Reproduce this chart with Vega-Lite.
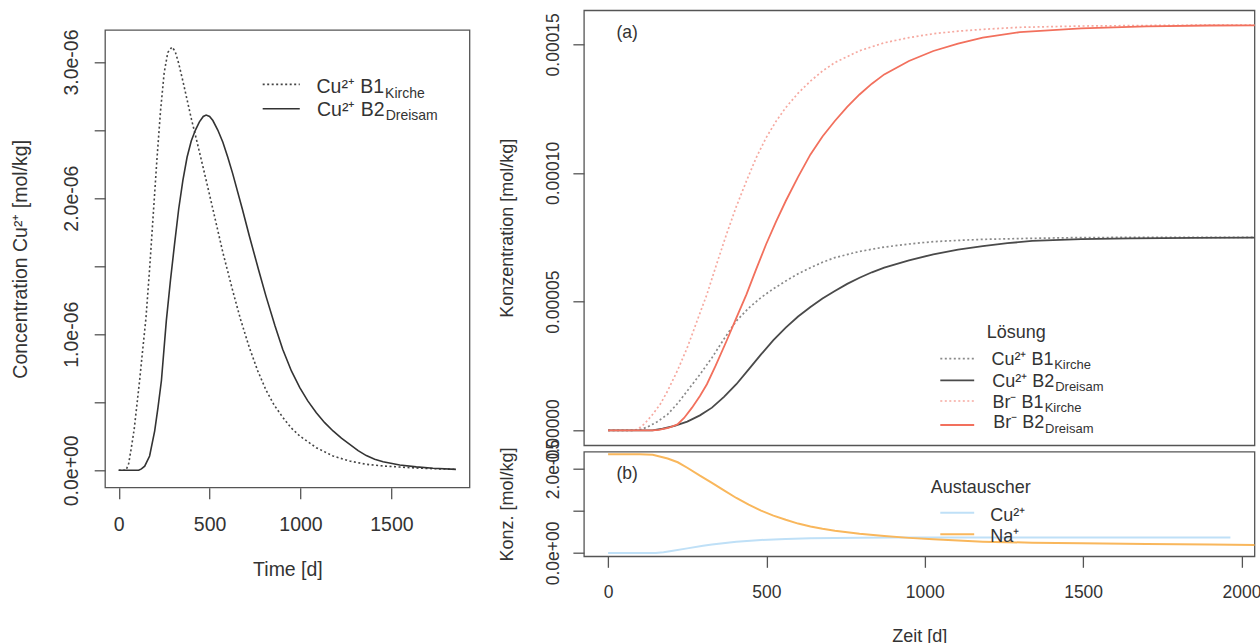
{
"$schema": "https://vega.github.io/schema/vega-lite/v6.json",
"padding": {"left": 10.2, "top": 9.3, "right": 0, "bottom": 0},
"bounds": "flush",
"spacing": 113.7,
"resolve": {"scale": {"x": "independent", "y": "independent"}},
"config": {
  "font": "Liberation Sans",
  "view": {"stroke": "#555", "strokeWidth": 1.3},
  "axis": {"grid": false, "domain": false, "tickColor": "#555", "tickWidth": 1.3, "tickSize": 11,
    "labelFont": "Liberation Sans", "labelFontSize": 19.5, "labelColor": "#333",
    "titleFont": "Liberation Sans", "titleFontSize": 19.5, "titleFontWeight": "normal", "titleColor": "#333",
    "labelOverlap": false, "labelFlush": false, "labelBound": false},
  "text": {"font": "Liberation Sans", "color": "#333"}
},
"datasets": {
  "left": [
    {"t":0,"c":0,"s":"B1"},{"t":40,"c":0,"s":"B1"},{"t":55,"c":0.05e-6,"s":"B1"},{"t":70,"c":0.17e-6,"s":"B1"},{"t":85,"c":0.3e-6,"s":"B1"},{"t":100,"c":0.48e-6,"s":"B1"},{"t":115,"c":0.66e-6,"s":"B1"},{"t":130,"c":0.86e-6,"s":"B1"},{"t":150,"c":1.12e-6,"s":"B1"},{"t":170,"c":1.48e-6,"s":"B1"},{"t":190,"c":1.88e-6,"s":"B1"},{"t":210,"c":2.28e-6,"s":"B1"},{"t":230,"c":2.64e-6,"s":"B1"},{"t":250,"c":2.92e-6,"s":"B1"},{"t":270,"c":3.07e-6,"s":"B1"},{"t":293,"c":3.11e-6,"s":"B1"},{"t":310,"c":3.08e-6,"s":"B1"},{"t":330,"c":2.99e-6,"s":"B1"},{"t":353,"c":2.86e-6,"s":"B1"},{"t":380,"c":2.7e-6,"s":"B1"},{"t":400,"c":2.58e-6,"s":"B1"},{"t":426,"c":2.44e-6,"s":"B1"},{"t":460,"c":2.25e-6,"s":"B1"},{"t":490,"c":2.08e-6,"s":"B1"},{"t":530,"c":1.85e-6,"s":"B1"},{"t":573,"c":1.6e-6,"s":"B1"},{"t":627,"c":1.32e-6,"s":"B1"},{"t":670,"c":1.11e-6,"s":"B1"},{"t":719,"c":0.9e-6,"s":"B1"},{"t":765,"c":0.73e-6,"s":"B1"},{"t":810,"c":0.59e-6,"s":"B1"},{"t":855,"c":0.48e-6,"s":"B1"},{"t":902,"c":0.39e-6,"s":"B1"},{"t":950,"c":0.31e-6,"s":"B1"},{"t":996,"c":0.252e-6,"s":"B1"},{"t":1087,"c":0.166e-6,"s":"B1"},{"t":1179,"c":0.105e-6,"s":"B1"},{"t":1271,"c":0.068e-6,"s":"B1"},{"t":1362,"c":0.044e-6,"s":"B1"},{"t":1454,"c":0.032e-6,"s":"B1"},{"t":1546,"c":0.024e-6,"s":"B1"},{"t":1650,"c":0.016e-6,"s":"B1"},{"t":1750,"c":0.011e-6,"s":"B1"},{"t":1855,"c":0.007e-6,"s":"B1"},
    {"t":0,"c":0,"s":"B2"},{"t":110,"c":0,"s":"B2"},{"t":125,"c":0.01e-6,"s":"B2"},{"t":143,"c":0.03e-6,"s":"B2"},{"t":170,"c":0.105e-6,"s":"B2"},{"t":198,"c":0.29e-6,"s":"B2"},{"t":216,"c":0.46e-6,"s":"B2"},{"t":235,"c":0.66e-6,"s":"B2"},{"t":262,"c":1.1e-6,"s":"B2"},{"t":285,"c":1.4e-6,"s":"B2"},{"t":307,"c":1.66e-6,"s":"B2"},{"t":330,"c":1.92e-6,"s":"B2"},{"t":353,"c":2.13e-6,"s":"B2"},{"t":376,"c":2.3e-6,"s":"B2"},{"t":399,"c":2.42e-6,"s":"B2"},{"t":422,"c":2.5e-6,"s":"B2"},{"t":444,"c":2.56e-6,"s":"B2"},{"t":465,"c":2.6e-6,"s":"B2"},{"t":481,"c":2.61e-6,"s":"B2"},{"t":500,"c":2.6e-6,"s":"B2"},{"t":518,"c":2.57e-6,"s":"B2"},{"t":545,"c":2.5e-6,"s":"B2"},{"t":573,"c":2.41e-6,"s":"B2"},{"t":600,"c":2.3e-6,"s":"B2"},{"t":627,"c":2.18e-6,"s":"B2"},{"t":680,"c":1.92e-6,"s":"B2"},{"t":719,"c":1.72e-6,"s":"B2"},{"t":770,"c":1.47e-6,"s":"B2"},{"t":810,"c":1.28e-6,"s":"B2"},{"t":860,"c":1.06e-6,"s":"B2"},{"t":902,"c":0.89e-6,"s":"B2"},{"t":950,"c":0.73e-6,"s":"B2"},{"t":996,"c":0.607e-6,"s":"B2"},{"t":1040,"c":0.51e-6,"s":"B2"},{"t":1087,"c":0.423e-6,"s":"B2"},{"t":1133,"c":0.35e-6,"s":"B2"},{"t":1179,"c":0.289e-6,"s":"B2"},{"t":1225,"c":0.236e-6,"s":"B2"},{"t":1271,"c":0.191e-6,"s":"B2"},{"t":1317,"c":0.145e-6,"s":"B2"},{"t":1362,"c":0.108e-6,"s":"B2"},{"t":1408,"c":0.082e-6,"s":"B2"},{"t":1454,"c":0.063e-6,"s":"B2"},{"t":1546,"c":0.039e-6,"s":"B2"},{"t":1637,"c":0.025e-6,"s":"B2"},{"t":1729,"c":0.015e-6,"s":"B2"},{"t":1855,"c":0.007e-6,"s":"B2"}
  ],
  "sol": [
    {"t":0,"c":0,"s":"BrB2"},{"t":140,"c":0,"s":"BrB2"},{"t":160,"c":0.02e-5,"s":"BrB2"},{"t":190,"c":0.09e-5,"s":"BrB2"},{"t":219,"c":0.23e-5,"s":"BrB2"},{"t":240,"c":0.48e-5,"s":"BrB2"},{"t":265,"c":0.88e-5,"s":"BrB2"},{"t":290,"c":1.33e-5,"s":"BrB2"},{"t":312,"c":1.79e-5,"s":"BrB2"},{"t":340,"c":2.52e-5,"s":"BrB2"},{"t":374,"c":3.47e-5,"s":"BrB2"},{"t":405,"c":4.37e-5,"s":"BrB2"},{"t":437,"c":5.28e-5,"s":"BrB2"},{"t":468,"c":6.27e-5,"s":"BrB2"},{"t":499,"c":7.23e-5,"s":"BrB2"},{"t":530,"c":8.1e-5,"s":"BrB2"},{"t":561,"c":8.91e-5,"s":"BrB2"},{"t":600,"c":9.85e-5,"s":"BrB2"},{"t":639,"c":10.72e-5,"s":"BrB2"},{"t":677,"c":11.42e-5,"s":"BrB2"},{"t":716,"c":12.02e-5,"s":"BrB2"},{"t":755,"c":12.57e-5,"s":"BrB2"},{"t":794,"c":13.05e-5,"s":"BrB2"},{"t":833,"c":13.47e-5,"s":"BrB2"},{"t":872,"c":13.83e-5,"s":"BrB2"},{"t":950,"c":14.35e-5,"s":"BrB2"},{"t":1027,"c":14.74e-5,"s":"BrB2"},{"t":1105,"c":15.03e-5,"s":"BrB2"},{"t":1183,"c":15.26e-5,"s":"BrB2"},{"t":1300,"c":15.47e-5,"s":"BrB2"},{"t":1494,"c":15.62e-5,"s":"BrB2"},{"t":1700,"c":15.7e-5,"s":"BrB2"},{"t":1900,"c":15.73e-5,"s":"BrB2"},{"t":2100,"c":15.74e-5,"s":"BrB2"},
    {"t":0,"c":0,"s":"BrB1"},{"t":80,"c":0,"s":"BrB1"},{"t":94,"c":0.04e-5,"s":"BrB1"},{"t":115,"c":0.25e-5,"s":"BrB1"},{"t":141,"c":0.62e-5,"s":"BrB1"},{"t":165,"c":1.02e-5,"s":"BrB1"},{"t":188,"c":1.53e-5,"s":"BrB1"},{"t":220,"c":2.35e-5,"s":"BrB1"},{"t":250,"c":3.21e-5,"s":"BrB1"},{"t":280,"c":4.22e-5,"s":"BrB1"},{"t":312,"c":5.28e-5,"s":"BrB1"},{"t":343,"c":6.47e-5,"s":"BrB1"},{"t":374,"c":7.62e-5,"s":"BrB1"},{"t":405,"c":8.7e-5,"s":"BrB1"},{"t":437,"c":9.69e-5,"s":"BrB1"},{"t":468,"c":10.6e-5,"s":"BrB1"},{"t":499,"c":11.37e-5,"s":"BrB1"},{"t":530,"c":12.0e-5,"s":"BrB1"},{"t":561,"c":12.54e-5,"s":"BrB1"},{"t":600,"c":13.1e-5,"s":"BrB1"},{"t":639,"c":13.57e-5,"s":"BrB1"},{"t":677,"c":13.96e-5,"s":"BrB1"},{"t":716,"c":14.29e-5,"s":"BrB1"},{"t":794,"c":14.75e-5,"s":"BrB1"},{"t":872,"c":15.06e-5,"s":"BrB1"},{"t":950,"c":15.26e-5,"s":"BrB1"},{"t":1027,"c":15.41e-5,"s":"BrB1"},{"t":1105,"c":15.51e-5,"s":"BrB1"},{"t":1183,"c":15.58e-5,"s":"BrB1"},{"t":1300,"c":15.66e-5,"s":"BrB1"},{"t":1494,"c":15.71e-5,"s":"BrB1"},{"t":1800,"c":15.74e-5,"s":"BrB1"},{"t":2100,"c":15.75e-5,"s":"BrB1"},
    {"t":0,"c":0,"s":"CuB2"},{"t":140,"c":0,"s":"CuB2"},{"t":172,"c":0.06e-5,"s":"CuB2"},{"t":210,"c":0.17e-5,"s":"CuB2"},{"t":250,"c":0.34e-5,"s":"CuB2"},{"t":290,"c":0.58e-5,"s":"CuB2"},{"t":328,"c":0.88e-5,"s":"CuB2"},{"t":366,"c":1.3e-5,"s":"CuB2"},{"t":405,"c":1.79e-5,"s":"CuB2"},{"t":444,"c":2.37e-5,"s":"CuB2"},{"t":483,"c":2.95e-5,"s":"CuB2"},{"t":522,"c":3.5e-5,"s":"CuB2"},{"t":561,"c":3.99e-5,"s":"CuB2"},{"t":600,"c":4.42e-5,"s":"CuB2"},{"t":639,"c":4.79e-5,"s":"CuB2"},{"t":677,"c":5.12e-5,"s":"CuB2"},{"t":716,"c":5.41e-5,"s":"CuB2"},{"t":755,"c":5.69e-5,"s":"CuB2"},{"t":794,"c":5.93e-5,"s":"CuB2"},{"t":833,"c":6.14e-5,"s":"CuB2"},{"t":872,"c":6.32e-5,"s":"CuB2"},{"t":950,"c":6.6e-5,"s":"CuB2"},{"t":1027,"c":6.84e-5,"s":"CuB2"},{"t":1105,"c":7.02e-5,"s":"CuB2"},{"t":1183,"c":7.16e-5,"s":"CuB2"},{"t":1261,"c":7.27e-5,"s":"CuB2"},{"t":1339,"c":7.36e-5,"s":"CuB2"},{"t":1494,"c":7.43e-5,"s":"CuB2"},{"t":1650,"c":7.46e-5,"s":"CuB2"},{"t":1850,"c":7.48e-5,"s":"CuB2"},{"t":2100,"c":7.49e-5,"s":"CuB2"},
    {"t":0,"c":0,"s":"CuB1"},{"t":80,"c":0,"s":"CuB1"},{"t":100,"c":0.02e-5,"s":"CuB1"},{"t":125,"c":0.13e-5,"s":"CuB1"},{"t":155,"c":0.33e-5,"s":"CuB1"},{"t":188,"c":0.62e-5,"s":"CuB1"},{"t":220,"c":1.05e-5,"s":"CuB1"},{"t":250,"c":1.53e-5,"s":"CuB1"},{"t":290,"c":2.17e-5,"s":"CuB1"},{"t":328,"c":2.82e-5,"s":"CuB1"},{"t":366,"c":3.55e-5,"s":"CuB1"},{"t":405,"c":4.25e-5,"s":"CuB1"},{"t":444,"c":4.75e-5,"s":"CuB1"},{"t":483,"c":5.16e-5,"s":"CuB1"},{"t":522,"c":5.5e-5,"s":"CuB1"},{"t":561,"c":5.8e-5,"s":"CuB1"},{"t":600,"c":6.08e-5,"s":"CuB1"},{"t":639,"c":6.32e-5,"s":"CuB1"},{"t":677,"c":6.53e-5,"s":"CuB1"},{"t":716,"c":6.71e-5,"s":"CuB1"},{"t":794,"c":6.95e-5,"s":"CuB1"},{"t":872,"c":7.12e-5,"s":"CuB1"},{"t":950,"c":7.24e-5,"s":"CuB1"},{"t":1027,"c":7.33e-5,"s":"CuB1"},{"t":1105,"c":7.38e-5,"s":"CuB1"},{"t":1183,"c":7.42e-5,"s":"CuB1"},{"t":1339,"c":7.46e-5,"s":"CuB1"},{"t":1494,"c":7.49e-5,"s":"CuB1"},{"t":1800,"c":7.5e-5,"s":"CuB1"},{"t":2100,"c":7.5e-5,"s":"CuB1"}
  ],
  "ex": [
    {"t":0,"c":2.35e-5,"s":"Na"},{"t":100,"c":2.35e-5,"s":"Na"},{"t":141,"c":2.34e-5,"s":"Na"},{"t":188,"c":2.25e-5,"s":"Na"},{"t":220,"c":2.16e-5,"s":"Na"},{"t":250,"c":2.03e-5,"s":"Na"},{"t":290,"c":1.84e-5,"s":"Na"},{"t":328,"c":1.67e-5,"s":"Na"},{"t":366,"c":1.49e-5,"s":"Na"},{"t":405,"c":1.31e-5,"s":"Na"},{"t":444,"c":1.15e-5,"s":"Na"},{"t":483,"c":1.01e-5,"s":"Na"},{"t":522,"c":0.89e-5,"s":"Na"},{"t":561,"c":0.79e-5,"s":"Na"},{"t":600,"c":0.7e-5,"s":"Na"},{"t":639,"c":0.63e-5,"s":"Na"},{"t":677,"c":0.575e-5,"s":"Na"},{"t":716,"c":0.53e-5,"s":"Na"},{"t":794,"c":0.46e-5,"s":"Na"},{"t":872,"c":0.405e-5,"s":"Na"},{"t":950,"c":0.36e-5,"s":"Na"},{"t":1027,"c":0.326e-5,"s":"Na"},{"t":1105,"c":0.295e-5,"s":"Na"},{"t":1183,"c":0.27e-5,"s":"Na"},{"t":1339,"c":0.245e-5,"s":"Na"},{"t":1494,"c":0.23e-5,"s":"Na"},{"t":1700,"c":0.215e-5,"s":"Na"},{"t":1900,"c":0.2e-5,"s":"Na"},{"t":2100,"c":0.19e-5,"s":"Na"},
    {"t":0,"c":0,"s":"Cu"},{"t":150,"c":0,"s":"Cu"},{"t":175,"c":0.02e-5,"s":"Cu"},{"t":200,"c":0.05e-5,"s":"Cu"},{"t":250,"c":0.11e-5,"s":"Cu"},{"t":300,"c":0.17e-5,"s":"Cu"},{"t":328,"c":0.2e-5,"s":"Cu"},{"t":405,"c":0.27e-5,"s":"Cu"},{"t":483,"c":0.31e-5,"s":"Cu"},{"t":561,"c":0.335e-5,"s":"Cu"},{"t":639,"c":0.35e-5,"s":"Cu"},{"t":716,"c":0.36e-5,"s":"Cu"},{"t":800,"c":0.365e-5,"s":"Cu"},{"t":900,"c":0.37e-5,"s":"Cu"},{"t":1200,"c":0.37e-5,"s":"Cu"},{"t":1600,"c":0.37e-5,"s":"Cu"},{"t":1965,"c":0.37e-5,"s":"Cu"}
  ]
},
"hconcat": [
  {
    "width": 364.5, "height": 477.4,
    "view": {"stroke": null},
    "layer": [
      {"data": {"name": "left"}, "transform": [{"filter": "datum.s === 'B1'"}],
       "mark": {"type": "line", "color": "#444", "strokeWidth": 1.6, "strokeDash": [2, 2.5]},
       "encoding": {
         "x": {"field": "t", "type": "quantitative", "scale": {"domain": [-74.3, 1930.7], "nice": false, "zero": false},
               "axis": {"values": [0, 500, 1000, 1500], "format": "d", "title": "Time [d]", "labelPadding": 16.9, "titleY": 82, "titleBaseline": "middle"}},
         "y": {"field": "c", "type": "quantitative", "scale": {"domain": [-1.278e-7, 3.380e-6], "nice": false, "zero": false},
               "axis": {"values": [0, 5e-7, 1e-6, 1.5e-6, 2e-6, 2.5e-6, 3e-6],
                        "labelExpr": "abs(datum.value) < 1e-12 ? '0.0e+00' : abs(datum.value - 1e-6) < 1e-12 ? '1.0e-06' : abs(datum.value - 2e-6) < 1e-12 ? '2.0e-06' : abs(datum.value - 3e-6) < 1e-12 ? '3.0e-06' : ''",
                        "labelAngle": 270, "labelAlign": "center", "labelBaseline": "middle", "labelPadding": 22.5,
                        "title": "Concentration Cu²⁺ [mol/kg]", "titleX": -84.5, "titleY": 248.5, "titleAngle": 270, "titleAlign": "center", "titleBaseline": "middle"}}
       }},
      {"data": {"name": "left"}, "transform": [{"filter": "datum.s === 'B2'"}],
       "mark": {"type": "line", "color": "#333", "strokeWidth": 1.6},
       "encoding": {"x": {"field": "t", "type": "quantitative"}, "y": {"field": "c", "type": "quantitative"}}},
      {"data": {"values": [{}]},
       "layer": [
         {"mark": {"type": "rect", "fillOpacity": 0, "stroke": "#555", "strokeWidth": 1.3},
          "encoding": {"x": {"datum": -74.3, "type": "quantitative"}, "x2": {"datum": 1930.7}, "y": {"datum": -1.278e-7, "type": "quantitative"}, "y2": {"datum": 3.235e-6}}},
         {"mark": {"type": "rule", "color": "#444", "strokeWidth": 1.6, "strokeDash": [2, 2.5]},
          "encoding": {"x": {"datum": 792, "type": "quantitative"}, "x2": {"datum": 996}, "y": {"datum": 2.836e-6, "type": "quantitative"}}},
         {"mark": {"type": "rule", "color": "#333", "strokeWidth": 1.6},
          "encoding": {"x": {"datum": 792, "type": "quantitative"}, "x2": {"datum": 996}, "y": {"datum": 2.657e-6, "type": "quantitative"}}},
         {"mark": {"type": "text", "text": "Cu²⁺ B1", "align": "right", "baseline": "alphabetic", "fontSize": 19.5},
          "encoding": {"x": {"datum": 1460, "type": "quantitative"}, "y": {"datum": 2.770e-6, "type": "quantitative"}}},
         {"mark": {"type": "text", "text": "Kirche", "align": "left", "baseline": "alphabetic", "fontSize": 14},
          "encoding": {"x": {"datum": 1465.5, "type": "quantitative"}, "y": {"datum": 2.739e-6, "type": "quantitative"}}},
         {"mark": {"type": "text", "text": "Cu²⁺ B2", "align": "right", "baseline": "alphabetic", "fontSize": 19.5},
          "encoding": {"x": {"datum": 1463, "type": "quantitative"}, "y": {"datum": 2.603e-6, "type": "quantitative"}}},
         {"mark": {"type": "text", "text": "Dreisam", "align": "left", "baseline": "alphabetic", "fontSize": 14},
          "encoding": {"x": {"datum": 1468.6, "type": "quantitative"}, "y": {"datum": 2.572e-6, "type": "quantitative"}}}
       ]}
    ]
  },
  {
    "bounds": "flush",
    "spacing": 6.4,
    "resolve": {"scale": {"x": "independent", "y": "independent"}},
    "vconcat": [
      {
        "width": 670.6, "height": 435,
        "layer": [
          {"data": {"name": "sol"}, "transform": [{"filter": "datum.s === 'CuB1'"}],
           "mark": {"type": "line", "color": "#8a8a8a", "strokeWidth": 1.7, "strokeDash": [2, 2.5], "clip": true},
           "encoding": {
             "x": {"field": "t", "type": "quantitative", "scale": {"domain": [-76.4, 2041.1], "nice": false, "zero": false}, "axis": null},
             "y": {"field": "c", "type": "quantitative", "scale": {"domain": [-5.83e-6, 1.6321e-4], "nice": false, "zero": false},
                   "axis": {"values": [0, 5e-5, 1e-4, 1.5e-4], "format": ".5f", "labelFontSize": 17.5, "titleFontSize": 18, "labelAngle": 270, "labelAlign": "center", "labelBaseline": "middle", "labelPadding": 19.7,
                            "title": "Konzentration [mol/kg]", "titleX": -76.7, "titleY": 217.5, "titleAngle": 270, "titleAlign": "center", "titleBaseline": "middle"}}
           }},
          {"data": {"name": "sol"}, "transform": [{"filter": "datum.s === 'BrB1'"}],
           "mark": {"type": "line", "color": "#f6a9a0", "strokeWidth": 1.7, "strokeDash": [2, 2.5], "clip": true},
           "encoding": {"x": {"field": "t", "type": "quantitative"}, "y": {"field": "c", "type": "quantitative"}}},
          {"data": {"name": "sol"}, "transform": [{"filter": "datum.s === 'CuB2'"}],
           "mark": {"type": "line", "color": "#4a4a4a", "strokeWidth": 1.8, "clip": true},
           "encoding": {"x": {"field": "t", "type": "quantitative"}, "y": {"field": "c", "type": "quantitative"}}},
          {"data": {"name": "sol"}, "transform": [{"filter": "datum.s === 'BrB2'"}],
           "mark": {"type": "line", "color": "#f2705d", "strokeWidth": 1.8, "clip": true},
           "encoding": {"x": {"field": "t", "type": "quantitative"}, "y": {"field": "c", "type": "quantitative"}}},
          {"data": {"values": [{}]},
           "layer": [
             {"mark": {"type": "text", "text": "(a)", "align": "center", "baseline": "middle", "fontSize": 17.5},
              "encoding": {"x": {"datum": 60, "type": "quantitative"}, "y": {"datum": 1.544e-4, "type": "quantitative"}}},
             {"mark": {"type": "text", "text": "Lösung", "align": "left", "baseline": "alphabetic", "fontSize": 18},
              "encoding": {"x": {"datum": 1196, "type": "quantitative"}, "y": {"datum": 3.598e-5, "type": "quantitative"}}},
             {"mark": {"type": "rule", "color": "#8a8a8a", "strokeWidth": 1.7, "strokeDash": [2, 2.5]},
              "encoding": {"x": {"datum": 1049, "type": "quantitative"}, "x2": {"datum": 1156}, "y": {"datum": 2.782e-5, "type": "quantitative"}}},
             {"mark": {"type": "rule", "color": "#4a4a4a", "strokeWidth": 1.8},
              "encoding": {"x": {"datum": 1049, "type": "quantitative"}, "x2": {"datum": 1156}, "y": {"datum": 1.943e-5, "type": "quantitative"}}},
             {"mark": {"type": "rule", "color": "#f6a9a0", "strokeWidth": 1.7, "strokeDash": [2, 2.5]},
              "encoding": {"x": {"datum": 1049, "type": "quantitative"}, "x2": {"datum": 1156}, "y": {"datum": 1.139e-5, "type": "quantitative"}}},
             {"mark": {"type": "rule", "color": "#f2705d", "strokeWidth": 1.8},
              "encoding": {"x": {"datum": 1049, "type": "quantitative"}, "x2": {"datum": 1156}, "y": {"datum": 2.06e-6, "type": "quantitative"}}},
             {"mark": {"type": "text", "text": "Cu²⁺ B1", "align": "right", "baseline": "alphabetic", "fontSize": 18},
              "encoding": {"x": {"datum": 1406.4, "type": "quantitative"}, "y": {"datum": 2.526e-5, "type": "quantitative"}}},
             {"mark": {"type": "text", "text": "Kirche", "align": "left", "baseline": "alphabetic", "fontSize": 13},
              "encoding": {"x": {"datum": 1408.6, "type": "quantitative"}, "y": {"datum": 2.370e-5, "type": "quantitative"}}},
             {"mark": {"type": "text", "text": "Cu²⁺ B2", "align": "right", "baseline": "alphabetic", "fontSize": 18},
              "encoding": {"x": {"datum": 1408.6, "type": "quantitative"}, "y": {"datum": 1.683e-5, "type": "quantitative"}}},
             {"mark": {"type": "text", "text": "Dreisam", "align": "left", "baseline": "alphabetic", "fontSize": 13},
              "encoding": {"x": {"datum": 1411.8, "type": "quantitative"}, "y": {"datum": 1.527e-5, "type": "quantitative"}}},
             {"mark": {"type": "text", "text": "Br⁻ B1", "align": "right", "baseline": "alphabetic", "fontSize": 18},
              "encoding": {"x": {"datum": 1374.8, "type": "quantitative"}, "y": {"datum": 8.55e-6, "type": "quantitative"}}},
             {"mark": {"type": "text", "text": "Kirche", "align": "left", "baseline": "alphabetic", "fontSize": 13},
              "encoding": {"x": {"datum": 1378.6, "type": "quantitative"}, "y": {"datum": 7.23e-6, "type": "quantitative"}}},
             {"mark": {"type": "text", "text": "Br⁻ B2", "align": "right", "baseline": "alphabetic", "fontSize": 18},
              "encoding": {"x": {"datum": 1377, "type": "quantitative"}, "y": {"datum": 7.8e-7, "type": "quantitative"}}},
             {"mark": {"type": "text", "text": "Dreisam", "align": "left", "baseline": "alphabetic", "fontSize": 13},
              "encoding": {"x": {"datum": 1380, "type": "quantitative"}, "y": {"datum": -9.3e-7, "type": "quantitative"}}}
           ]}
        ]
      },
      {
        "width": 670.6, "height": 104.6,
        "layer": [
          {"data": {"name": "ex"}, "transform": [{"filter": "datum.s === 'Cu'"}],
           "mark": {"type": "line", "color": "#bfe0f7", "strokeWidth": 2, "clip": true},
           "encoding": {
             "x": {"field": "t", "type": "quantitative", "scale": {"domain": [-76.4, 2041.1], "nice": false, "zero": false},
                   "axis": {"values": [0, 500, 1000, 1500, 2000], "format": "d", "labelFontSize": 17.5, "titleFontSize": 18, "title": "Zeit [d]", "labelPadding": 16.1, "titleY": 80, "titleBaseline": "middle"}},
             "y": {"field": "c", "type": "quantitative", "scale": {"domain": [-7.86e-7, 2.412e-5], "nice": false, "zero": false},
                   "axis": {"values": [0, 5e-6, 1e-5, 1.5e-5, 2e-5],
                            "labelExpr": "abs(datum.value) < 1e-12 ? '0.0e+00' : abs(datum.value - 2e-5) < 1e-12 ? '2.0e-05' : ''",
                            "labelFontSize": 17.5, "titleFontSize": 18,
                            "labelAngle": 270, "labelAlign": "center", "labelBaseline": "middle", "labelPadding": 19.7,
                            "title": "Konz. [mol/kg]", "titleX": -76.7, "titleY": 52.3, "titleAngle": 270, "titleAlign": "center", "titleBaseline": "middle"}}
           }},
          {"data": {"name": "ex"}, "transform": [{"filter": "datum.s === 'Na'"}],
           "mark": {"type": "line", "color": "#f9b75c", "strokeWidth": 2, "clip": true},
           "encoding": {"x": {"field": "t", "type": "quantitative"}, "y": {"field": "c", "type": "quantitative"}}},
          {"data": {"values": [{}]},
           "layer": [
             {"mark": {"type": "text", "text": "(b)", "align": "center", "baseline": "middle", "fontSize": 17.5},
              "encoding": {"x": {"datum": 60, "type": "quantitative"}, "y": {"datum": 1.881e-5, "type": "quantitative"}}},
             {"mark": {"type": "text", "text": "Austauscher", "align": "left", "baseline": "alphabetic", "fontSize": 18},
              "encoding": {"x": {"datum": 1019, "type": "quantitative"}, "y": {"datum": 1.436e-5, "type": "quantitative"}}},
             {"mark": {"type": "rule", "color": "#bfe0f7", "strokeWidth": 2},
              "encoding": {"x": {"datum": 1049, "type": "quantitative"}, "x2": {"datum": 1156}, "y": {"datum": 9.6e-6, "type": "quantitative"}}},
             {"mark": {"type": "rule", "color": "#f9b75c", "strokeWidth": 2},
              "encoding": {"x": {"datum": 1049, "type": "quantitative"}, "x2": {"datum": 1156}, "y": {"datum": 4.45e-6, "type": "quantitative"}}},
             {"mark": {"type": "text", "text": "Cu²⁺", "align": "left", "baseline": "alphabetic", "fontSize": 18},
              "encoding": {"x": {"datum": 1206.6, "type": "quantitative"}, "y": {"datum": 7.62e-6, "type": "quantitative"}}},
             {"mark": {"type": "text", "text": "Na⁺", "align": "left", "baseline": "alphabetic", "fontSize": 18},
              "encoding": {"x": {"datum": 1206.6, "type": "quantitative"}, "y": {"datum": 2.69e-6, "type": "quantitative"}}}
           ]}
        ]
      }
    ]
  }
]
}
